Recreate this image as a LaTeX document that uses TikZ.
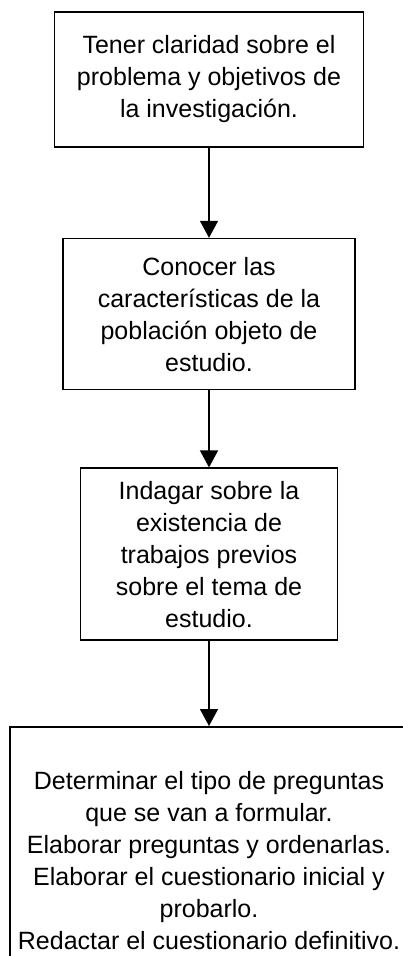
\documentclass[tikz,border=0pt]{standalone}
\usepackage{fontspec}
\setmainfont{Liberation Sans}
\usepackage{tikz}
\usetikzlibrary{arrows.meta, positioning}
\usepackage{xcolor}
\definecolor{LineBlack}{RGB}{0, 0, 0}
\tikzset{%
  step_block/.style={%
    rectangle,%
    draw=LineBlack,%
    line width=1.6pt,%
    inner sep=0pt,%
    font={\fontsize{25}{32}\selectfont},%
    align=center%
  },
  smooth_path/.style={%
    color=LineBlack,%
    line join=round,%
    line width=1.6pt,%
  },
  arrow/.style={-{Triangle[length=17pt, width=18pt]}},
}

\begin{document}
\begin{tikzpicture}[x=1pt, y=-1pt]

    \useasboundingbox (0, 0) rectangle (403, 956);
    \clip (0, 0) rectangle (403, 956);

    \node [step_block, minimum width=309pt, minimum height=135pt]
      (Problema) at (209, 79.5)
      {Tener claridad sobre el\\problema y objetivos de\\la investigación.};
    \node [step_block, minimum width=292pt, minimum height=151pt,
      below = 90pt of Problema] (Poblacion)
      {Conocer las\\características de la\\población objeto de\\estudio.};
    \node [step_block, minimum width=257pt, minimum height=172pt,
      below = 77pt of Poblacion] (Indagar)
      {Indagar sobre la\\existencia de\\trabajos previos\\sobre el tema de\\estudio.};
    \node [step_block, minimum width=398pt, minimum height=268pt,
      below = 85pt of Indagar] (Cuestionario)
      {Determinar el tipo de preguntas\\que se van a formular.\\Elaborar preguntas y ordenarlas.\\Elaborar el cuestionario inicial y\\probarlo.\\Redactar el cuestionario definitivo.};

    \draw [arrow, smooth_path]
      (Problema.south)
      --
      (Poblacion.north);
    \draw [arrow, smooth_path]
      (Poblacion.south)
      --
      (Indagar.north);
    \draw [arrow, smooth_path]
      (Indagar.south)
      --
      (Cuestionario.north);
  \end{tikzpicture}
\end{document}
